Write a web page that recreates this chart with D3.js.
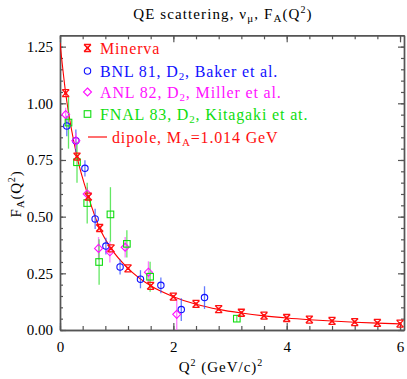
<html>
<head>
<meta charset="utf-8">
<style>
  body { margin: 0; background: #fff; }
  svg text { font-family: "Liberation Serif", "DejaVu Serif", serif; }
</style>
</head>
<body>
<script src="https://d3js.org/d3.v7.min.js"></script>
<script>
// values
var minervaQ2 = [0.1, 0.3, 0.5, 0.7, 0.9, 1.2, 1.6, 2.0, 2.4, 2.8, 3.2, 3.6, 4.0, 4.4, 4.8, 5.2, 5.6, 6.0];
var minervaFA = [1.045, 0.765, 0.588, 0.45, 0.36, 0.272, 0.195, 0.147, 0.115, 0.092, 0.076, 0.063, 0.053, 0.046, 0.04, 0.035, 0.031, 0.028];

var bnlQ2  = [0.12, 0.28, 0.44, 0.62, 0.81, 1.06, 1.42, 1.78, 2.14, 2.55];
var bnlFA  = [0.90, 0.835, 0.713, 0.49, 0.37, 0.278, 0.224, 0.197, 0.09, 0.143];
var bnlErr = [0.045, 0.05, 0.036, 0.045, 0.037, 0.033, 0.04, 0.035, 0.05, 0.05];

var anlQ2  = [0.1, 0.28, 0.48, 0.68, 0.88, 1.15, 1.56, 2.06];
var anlFA  = [0.95, 0.835, 0.60, 0.36, 0.345, 0.365, 0.255, 0.069];
var anlErr = [0.03, 0.035, 0.03, 0.05, 0.047, 0.045, 0.048, 0.07];

var fnalQ2  = [0.15, 0.30, 0.48, 0.69, 0.89, 1.18, 1.59, 3.12];
var fnalFA  = [0.915, 0.74, 0.56, 0.30, 0.51, 0.38, 0.235, 0.05];
var fnalErr = [0.115, 0.09, 0.09, 0.1, 0.12, 0.06, 0.066, 0.015];

// dipole curve, M_A = 1.014 GeV
var dipoleQ2 = [0, 0.1, 0.2, 0.3, 0.5, 0.7, 0.9, 1.2, 1.6, 2.0, 2.4, 2.8, 3.2, 3.6, 4.0, 4.4, 4.8, 5.2, 5.6, 6.0];
var dipoleFA = [1.267, 1.045, 0.888, 0.765, 0.588, 0.449, 0.36, 0.272, 0.195, 0.147, 0.114, 0.091, 0.075, 0.0625, 0.053, 0.0455, 0.0394, 0.0345, 0.0305, 0.0271];

var xMajor = [0, 2, 4, 6];
var xLabels = ["0", "2", "4", "6"];
var yMajor = [0, 0.25, 0.5, 0.75, 1.0, 1.25];
var yLabels = ["0.00", "0.25", "0.50", "0.75", "1.00", "1.25"];

var W = 407, H = 379;
var L = 60, R = 404, T = 35.3, B = 330;

var svg = d3.select("body").append("svg").attr("width", W).attr("height", H);

var x = d3.scaleLinear().domain([0, 6.07]).range([L, R]);
var y = d3.scaleLinear().domain([0, 1.3]).range([B, T]);

svg.append("clipPath").attr("id", "clip")
  .append("rect").attr("x", L).attr("y", T).attr("width", R - L).attr("height", B - T);

var axisCol = "#555";

// frame + ticks
function styleAxis(g) {
  g.select(".domain").attr("stroke", axisCol).attr("stroke-width", 1.4);
  g.selectAll(".tick line").attr("stroke", axisCol).attr("stroke-width", 1.2);
}
var xMinor = d3.range(0, 6.05, 0.4);
var yMinor = d3.range(0, 1.3, 0.05);

svg.append("g").attr("transform", "translate(0," + B + ")")
  .call(d3.axisBottom(x).tickValues(xMinor).tickSize(-4).tickFormat("").tickSizeOuter(0)).call(styleAxis);
svg.append("g").attr("transform", "translate(0," + B + ")")
  .call(d3.axisBottom(x).tickValues(xMajor).tickSize(-7).tickPadding(11).tickSizeOuter(0)
    .tickFormat(function(d, i) { return xLabels[i]; }))
  .call(styleAxis)
  .selectAll("text").attr("font-size", "15px").attr("fill", "#000")
  .attr("font-family", "Liberation Serif");
svg.append("g").attr("transform", "translate(0," + T + ")")
  .call(d3.axisTop(x).tickValues(xMinor).tickSize(-4).tickFormat("").tickSizeOuter(0)).call(styleAxis);
svg.append("g").attr("transform", "translate(0," + T + ")")
  .call(d3.axisTop(x).tickValues(xMajor).tickSize(-7).tickFormat("").tickSizeOuter(0)).call(styleAxis);

svg.append("g").attr("transform", "translate(" + L + ",0)")
  .call(d3.axisLeft(y).tickValues(yMinor).tickSize(-3).tickFormat("").tickSizeOuter(0)).call(styleAxis);
svg.append("g").attr("transform", "translate(" + L + ",0)")
  .call(d3.axisLeft(y).tickValues(yMajor).tickSize(-6).tickPadding(7).tickSizeOuter(0)
    .tickFormat(function(d, i) { return yLabels[i]; }))
  .call(styleAxis)
  .selectAll("text").attr("font-size", "15px").attr("fill", "#000")
  .attr("font-family", "Liberation Sans");
svg.append("g").attr("transform", "translate(" + R + ",0)")
  .call(d3.axisRight(y).tickValues(yMinor).tickSize(-3).tickFormat("").tickSizeOuter(0)).call(styleAxis);
svg.append("g").attr("transform", "translate(" + R + ",0)")
  .call(d3.axisRight(y).tickValues(yMajor).tickSize(-6).tickFormat("").tickSizeOuter(0)).call(styleAxis);

var plot = svg.append("g").attr("clip-path", "url(#clip)");

// dipole line
var line = d3.line().x(function(d) { return x(d[0]); }).y(function(d) { return y(d[1]); })
  .curve(d3.curveMonotoneX);
plot.append("path").datum(d3.zip(dipoleQ2, dipoleFA))
  .attr("d", line).attr("fill", "none").attr("stroke", "#f00").attr("stroke-width", 1.1);

function errBars(q, f, e, col) {
  plot.selectAll(null).data(d3.zip(q, f, e)).enter().append("line")
    .attr("x1", function(d) { return x(d[0]); }).attr("x2", function(d) { return x(d[0]); })
    .attr("y1", function(d) { return y(d[1] - d[2]); }).attr("y2", function(d) { return y(d[1] + d[2]); })
    .attr("stroke", col).attr("stroke-width", 1.3).attr("opacity", 0.75);
}
errBars(bnlQ2, bnlFA, bnlErr, "#3050ff");
errBars(anlQ2, anlFA, anlErr, "#ff50ff");
errBars(fnalQ2, fnalFA, fnalErr, "#30e030");

// markers
var blue = "#1010ff", mag = "#ff10ff", green = "#10dd10", red = "#ff1010";
function circ(g, cx, cy) {
  g.append("circle").attr("cx", cx).attr("cy", cy).attr("r", 3.2)
    .attr("fill", "none").attr("stroke", blue).attr("stroke-width", 1.1);
}
function diam(g, cx, cy) {
  g.append("path").attr("d", "M" + cx + "," + (cy - 4) + "L" + (cx + 4) + "," + cy + "L" + cx + "," + (cy + 4) + "L" + (cx - 4) + "," + cy + "Z")
    .attr("fill", "none").attr("stroke", mag).attr("stroke-width", 1.1);
}
function sq(g, cx, cy) {
  g.append("rect").attr("x", cx - 3.3).attr("y", cy - 3.3).attr("width", 6.6).attr("height", 6.6)
    .attr("fill", "none").attr("stroke", green).attr("stroke-width", 1.1);
}
function star(g, cx, cy) {
  var s = 3.5;
  g.append("path").attr("d",
    "M" + (cx - s) + "," + (cy - s) + "L" + (cx + s) + "," + (cy + s) +
    "M" + (cx + s) + "," + (cy - s) + "L" + (cx - s) + "," + (cy + s) +
    "M" + (cx - s) + "," + (cy - s) + "L" + (cx + s) + "," + (cy - s) +
    "M" + (cx - s) + "," + (cy + s) + "L" + (cx + s) + "," + (cy + s))
    .attr("fill", "none").attr("stroke", red).attr("stroke-width", 1.3);
  g.append("rect").attr("x", cx - 1.5).attr("y", cy - 1.5).attr("width", 3).attr("height", 3).attr("fill", red);
}

bnlQ2.forEach(function(q, i) { circ(plot, x(q), y(bnlFA[i])); });
anlQ2.forEach(function(q, i) { diam(plot, x(q), y(anlFA[i])); });
fnalQ2.forEach(function(q, i) { sq(plot, x(q), y(fnalFA[i])); });
minervaQ2.forEach(function(q, i) { star(svg, x(q), y(minervaFA[i])); });

// legend
var lg = svg.append("g").attr("font-size", "16px").attr("letter-spacing", "0.85px");
var lx = 87.5, tx = 100, rows = [48, 71, 92, 114, 137];
star(lg, lx, rows[0]);
circ(lg, lx, rows[1]);
diam(lg, lx, rows[2]);
sq(lg, lx, rows[3]);
lg.append("line").attr("x1", 88).attr("x2", 107).attr("y1", rows[4]).attr("y2", rows[4])
  .attr("stroke", red).attr("stroke-width", 1.2);

function legText(yy, col, xx) {
  return lg.append("text").attr("x", xx).attr("y", yy + 5.5).attr("fill", col);
}
legText(rows[0], red, tx).text("Minerva");
var t1 = legText(rows[1], blue, tx);
t1.append("tspan").text("BNL 81, D");
t1.append("tspan").attr("font-size", "11px").attr("dy", 3).text("2");
t1.append("tspan").attr("dy", -3).text(", Baker et al.");
var t2 = legText(rows[2], mag, tx);
t2.append("tspan").text("ANL 82, D");
t2.append("tspan").attr("font-size", "11px").attr("dy", 3).text("2");
t2.append("tspan").attr("dy", -3).text(", Miller et al.");
var t3 = legText(rows[3], green, tx);
t3.append("tspan").text("FNAL 83, D");
t3.append("tspan").attr("font-size", "11px").attr("dy", 3).text("2");
t3.append("tspan").attr("dy", -3).text(", Kitagaki et at.");
var t4 = legText(rows[4], red, 112);
t4.append("tspan").text("dipole, M");
t4.append("tspan").attr("font-size", "11px").attr("dy", 3).text("A");
t4.append("tspan").attr("dy", -3).text("=1.014 GeV");

// title
var tt = svg.append("text").attr("x", 223).attr("y", 19).attr("text-anchor", "middle")
  .attr("font-size", "15px").attr("letter-spacing", "1.1px").attr("fill", "#000");
tt.append("tspan").text("QE scattering, \u03bd");
tt.append("tspan").attr("font-size", "11px").attr("dy", 3).text("\u03bc");
tt.append("tspan").attr("dy", -3).text(", F");
tt.append("tspan").attr("font-size", "11px").attr("dy", 3).text("A");
tt.append("tspan").attr("dy", -3).text("(Q");
tt.append("tspan").attr("font-size", "10px").attr("dy", -6).text("2");
tt.append("tspan").attr("dy", 6).text(")");

// x title
var xt = svg.append("text").attr("x", 221).attr("y", 372).attr("text-anchor", "middle")
  .attr("font-size", "15px").attr("letter-spacing", "1px").attr("fill", "#000");
xt.append("tspan").text("Q");
xt.append("tspan").attr("font-size", "10px").attr("dy", -6).text("2");
xt.append("tspan").attr("dy", 6).text(" (GeV/c)");
xt.append("tspan").attr("font-size", "10px").attr("dy", -6).text("2");

// y title
var yt = svg.append("text").attr("transform", "translate(21,194) rotate(-90)").attr("text-anchor", "middle")
  .attr("font-size", "15px").attr("letter-spacing", "0.8px").attr("fill", "#000");
yt.append("tspan").text("F");
yt.append("tspan").attr("font-size", "11px").attr("dy", 3).text("A");
yt.append("tspan").attr("dy", -3).text("(Q");
yt.append("tspan").attr("font-size", "10px").attr("dy", -6).text("2");
yt.append("tspan").attr("dy", 6).text(")");
</script>
</body>
</html>
